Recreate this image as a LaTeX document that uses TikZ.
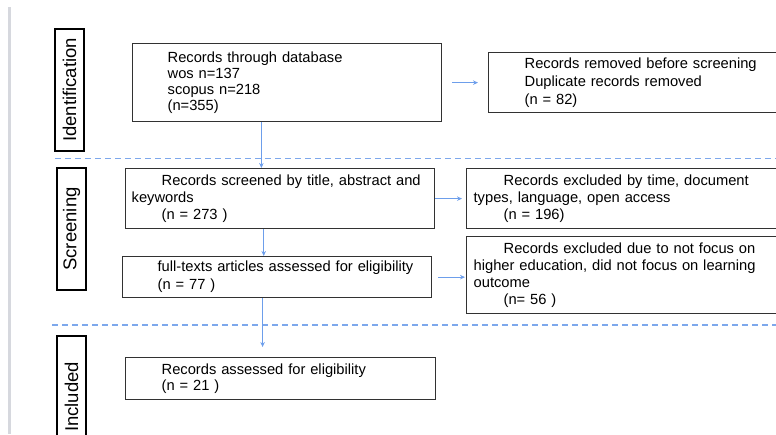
\documentclass[tikz,border=0pt]{standalone}
\usepackage{fontspec}
\setmainfont{Liberation Sans}
\usepackage{tikz}
\usetikzlibrary{
arrows.meta,
positioning,
calc
}
\definecolor{prismablue}{RGB}{109,158,235}
\definecolor{prismadash}{RGB}{125,168,236}
\definecolor{prismaedge}{RGB}{50,50,50}
\definecolor{prismabar}{RGB}{214,216,222}

\begin{document}
\begin{tikzpicture}[
  x=1pt, y=-1pt,
  >={Stealth[length=5pt, width=4.5pt]},
  record/.style={draw=prismaedge, line width=1.3pt, anchor=north west, align=left,
    inner ysep=0pt, font=\fontsize{14.7}{17}\selectfont},
  phase/.style={draw=black, line width=1.3pt, rotate=90, inner sep=0pt,
    minimum width=122pt, minimum height=29pt, font=\fontsize{18.5}{20}\selectfont},
  flow/.style={->, prismablue, line width=1.2pt},
  stagesep/.style={dashed, prismadash, line width=1.2pt, dash pattern=on 6pt off 4pt}
]
\useasboundingbox (0,0) rectangle (776,434);
\clip (0,0) rectangle (776,434);

% left margin bar
\fill[prismabar] (8,7) rectangle (11,434);

% Phase labels
\node[phase] (idlab) at (69.5,90) {Identification};
\node[phase] (scrlab) at (71.5,229) {Screening};
\node[phase] (inclab) at (71.5,397) {Included};

% Identification
\node[record, minimum height=78pt, inner xsep=35pt, text width=239pt,
  font=\fontsize{14.7}{16}\selectfont] (db) at (132,43)
  {Records through database\\wos n=137\\scopus n=218\\(n=355)};
\node[record, minimum height=60pt, inner xsep=36pt, text width=240pt,
  font=\fontsize{14.7}{18}\selectfont] (removed) at (488,52)
  {Records removed before screening\\Duplicate records removed\\(n = 82)};
\draw[flow, shorten <=10pt, shorten >=10pt] (db.east) -- (removed.west |- db.east);

\draw[stagesep] (55,158.5) -- (776,158.5);

% Screening
\node[record, minimum height=60pt, inner xsep=6pt, text width=297pt] (scr1) at (125,168)
  {\hspace*{30pt}Records screened by title, abstract and\\keywords\\\hspace*{30pt}(n = 273 )};
\node[record, minimum height=60pt, inner xsep=7pt, text width=320pt] (excl1) at (466,168)
  {\hspace*{30pt}Records excluded by time, document\\types, language, open access\\\hspace*{30pt}(n = 196)};
\node[record, minimum height=41pt, inner xsep=6pt, text width=297pt,
  font=\fontsize{14.7}{18}\selectfont] (scr2) at (122,256)
  {\hspace*{29pt}full-texts articles assessed for eligibility\\\hspace*{29pt}(n = 77 )};
\node[record, minimum height=77pt, inner xsep=7pt, text width=320pt] (excl2) at (466,236)
  {\hspace*{30pt}Records excluded due to not focus on\\higher education, did not focus on learning\\outcome\\\hspace*{30pt}(n= 56 )};

\coordinate (a1) at ($(db.south west)!0.417!(db.south east)$);
\draw[flow] (a1) -- (a1 |- scr1.north);
\coordinate (a2) at ($(scr1.south west)!0.447!(scr1.south east)$);
\draw[flow] (a2) -- (a2 |- scr2.north);
\draw[flow, shorten >=4pt] (scr1.east) -- (excl1.west |- scr1.east);
\draw[flow, shorten <=6pt, shorten >=1pt] (scr2.east) -- (excl2.west |- scr2.east);

\draw[stagesep] (52,325) -- (776,325);

% Included
\node[record, minimum height=42pt, inner xsep=6pt, text width=298pt,
  font=\fontsize{14.7}{16}\selectfont] (incl) at (125,357)
  {\hspace*{30pt}Records assessed for eligibility\\\hspace*{30pt}(n = 21 )};
\coordinate (a3) at ($(scr2.south west)!0.453!(scr2.south east)$);
\draw[flow, shorten >=10pt] (a3) -- (a3 |- incl.north);

\end{tikzpicture}
\end{document}
